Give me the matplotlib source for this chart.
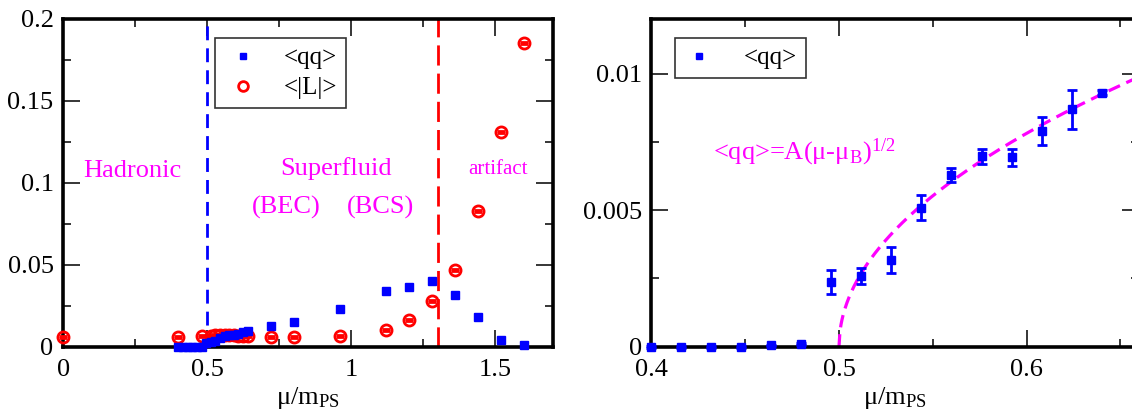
import numpy as np
import matplotlib
matplotlib.use("Agg")
import matplotlib.pyplot as plt
from matplotlib.ticker import MultipleLocator, FuncFormatter

plt.rcParams['font.family'] = ['Liberation Serif', 'DejaVu Serif']
plt.rcParams['mathtext.fontset'] = 'custom'
plt.rcParams['mathtext.rm'] = 'Liberation Serif'
plt.rcParams['mathtext.it'] = 'Liberation Serif:italic'
plt.rcParams['lines.scale_dashes'] = False

# ---------------- data ----------------
# left panel
mu_qq_left = [0.400, 0.416, 0.432, 0.448, 0.464, 0.480, 0.496, 0.512, 0.528, 0.544,
              0.560, 0.576, 0.592, 0.608, 0.624, 0.640,
              0.72, 0.80, 0.96, 1.12, 1.20, 1.28, 1.36, 1.44, 1.52, 1.60]
qq_left = [0.0, 0.0, 0.0, 0.0, 0.00005, 0.00011, 0.00237, 0.0026, 0.0032, 0.0051,
           0.0063, 0.0070, 0.0069, 0.0079, 0.0087, 0.0093,
           0.0126, 0.0152, 0.0233, 0.0339, 0.0365, 0.0404, 0.0317, 0.0183, 0.0041, 0.0008]

mu_L = [0.0, 0.400, 0.480, 0.512, 0.528, 0.544, 0.560, 0.576, 0.592, 0.608, 0.624, 0.640,
        0.72, 0.80, 0.96, 1.12, 1.20, 1.28, 1.36, 1.44, 1.52, 1.60]
L_abs = [0.0059, 0.0061, 0.0065, 0.0067, 0.0069, 0.0071, 0.0071, 0.0070, 0.0069, 0.0068, 0.0067, 0.0066,
         0.0059, 0.0057, 0.0065, 0.0099, 0.0162, 0.0276, 0.0471, 0.0826, 0.1310, 0.1852]

mu_BEC_line = 0.5
mu_art_line = 1.3

# right panel
mu_qq = [0.400, 0.416, 0.432, 0.448, 0.464, 0.480, 0.496, 0.512, 0.528, 0.544,
         0.560, 0.576, 0.592, 0.608, 0.624, 0.640]
qq = [0.0, 0.0, 0.0, 0.0, 0.00005, 0.00011, 0.00237, 0.0026, 0.00317, 0.00509,
      0.00629, 0.00697, 0.00693, 0.00791, 0.00869, 0.00930]
qq_err = [0.00003, 0.00003, 0.00003, 0.00003, 0.00003, 0.00003, 0.00044, 0.00029, 0.00047, 0.00045,
          0.00027, 0.00027, 0.00031, 0.00051, 0.00071, 0.0001]

# fit  <qq> = A (mu - mu_B)^(1/2)
fit_A = 0.0247
fit_muB = 0.5

BLUE = '#0000ff'
RED = '#ff0000'
MAG = '#ff00ff'

fig = plt.figure(figsize=(11.32, 4.12), dpi=100)
axL = fig.add_axes([0.0559, 0.1585, 0.4325, 0.7954])
axR = fig.add_axes([0.5755, 0.1585, 0.4307, 0.7954])

fmt = FuncFormatter(lambda v, p: '%g' % round(v, 6))

def style(ax):
    for s in ax.spines.values():
        s.set_linewidth(2.6)
    ax.tick_params(which='both', direction='in', top=True, right=True,
                   labelsize=19, width=1.1, pad=7)
    ax.tick_params(axis='x', which='both', pad=9)
    ax.tick_params(which='major', length=12)
    ax.tick_params(which='minor', length=6)
    ax.xaxis.set_major_formatter(fmt)
    ax.yaxis.set_major_formatter(fmt)
    ax.set_xlabel(r'$\mathrm{\mu/m_{PS}}$', fontsize=19, labelpad=3)

# ---------- left ----------
style(axL)
axL.set_xlim(0, 1.7)
axL.set_ylim(0, 0.2)
axL.xaxis.set_major_locator(MultipleLocator(0.5))
axL.xaxis.set_minor_locator(MultipleLocator(0.25))
axL.yaxis.set_major_locator(MultipleLocator(0.05))
axL.yaxis.set_minor_locator(MultipleLocator(0.025))

axL.axvline(mu_BEC_line, color=BLUE, lw=2.0, dashes=(10, 5.8), zorder=2)
axL.axvline(mu_art_line, color=RED, lw=2.0, dashes=(14.5, 5.8), zorder=2)

axL.plot(mu_qq_left, qq_left, ls='none', marker='s', ms=6, color=BLUE, mec=BLUE,
         label='<qq>', clip_on=False, zorder=4)
eb = axL.errorbar(mu_L, L_abs, yerr=[0.0006] * len(mu_L), fmt='o', ms=8, mfc='none',
                  mec=RED, mew=2.0, ecolor=RED, elinewidth=1.2, capsize=3.2, capthick=1.6,
                  clip_on=False, zorder=3)
for art in eb.lines[1] + tuple(eb.lines[2]):
    art.set_clip_on(False)
# legend proxies
hq, = axL.plot([], [], ls='none', marker='s', ms=5, color=BLUE)
hl, = axL.plot([], [], ls='none', marker='o', ms=7, mfc='none', mec=RED, mew=2)
lg = axL.legend([hq, hl], ['<qq>', '<|L|>'], loc='upper left',
                bbox_to_anchor=(0.31, 0.942), borderaxespad=0, fontsize=18, frameon=True,
                fancybox=False, edgecolor='black', handletextpad=0.9, handlelength=1.5,
                borderpad=0.35, labelspacing=0.3)
lg.get_frame().set_linewidth(1.2)
lg.set_zorder(5)

axL.text(0.24, 0.1074, 'Hadronic', color=MAG, fontsize=19, ha='center', va='center')
axL.text(0.946, 0.109, 'Superfluid', color=MAG, fontsize=19, ha='center', va='center')
axL.text(0.773, 0.0852, '(BEC)', color=MAG, fontsize=19, ha='center', va='center')
axL.text(1.10, 0.0852, '(BCS)', color=MAG, fontsize=19, ha='center', va='center')
axL.text(1.508, 0.108, 'artifact', color=MAG, fontsize=15, ha='center', va='center')

# ---------- right ----------
style(axR)
axR.set_xlim(0.4, 0.66)
axR.set_ylim(0, 0.012)
axR.xaxis.set_major_locator(MultipleLocator(0.1))
axR.xaxis.set_minor_locator(MultipleLocator(0.05))
axR.yaxis.set_major_locator(MultipleLocator(0.005))
axR.yaxis.set_minor_locator(MultipleLocator(0.0025))

xf = np.linspace(fit_muB, 0.66, 300)
axR.plot(xf, fit_A * np.sqrt(xf - fit_muB), color=MAG, lw=2.3, dashes=(9, 5), zorder=2)

ebr = axR.errorbar(mu_qq, qq, yerr=qq_err, fmt='s', ms=6, color=BLUE, mec=BLUE,
                   ecolor=BLUE, elinewidth=2.0, capsize=3.6, capthick=2.0,
                   clip_on=False, zorder=3)
for art in ebr.lines[1] + tuple(ebr.lines[2]):
    art.set_clip_on(False)
ebr.lines[0].set_clip_on(False)
hq2, = axR.plot([], [], ls='none', marker='s', ms=5, color=BLUE)
lg2 = axR.legend([hq2], ['<qq>'], loc='upper left', bbox_to_anchor=(0.048, 0.942),
                 borderaxespad=0, fontsize=18, frameon=True, fancybox=False,
                 edgecolor='black', handletextpad=1.2, handlelength=1.2, borderpad=0.35)
lg2.get_frame().set_linewidth(1.2)

axR.text(0.433, 0.0071, r'<qq>=A(μ-μ$_\mathrm{B}$)$^\mathrm{1/2}$', color=MAG,
         fontsize=19, ha='left', va='center')

fig.savefig('out.png', dpi=100)
